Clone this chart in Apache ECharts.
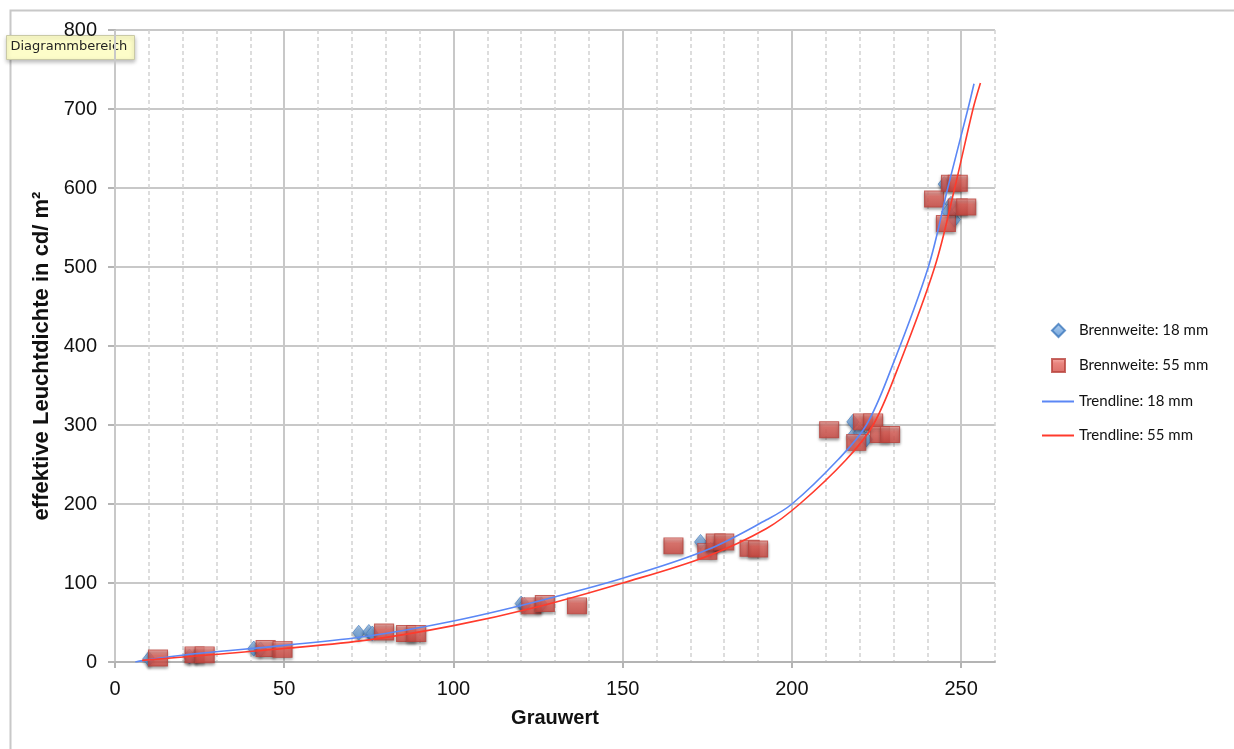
<!DOCTYPE html>
<html>
<head>
<meta charset="utf-8">
<script src="https://cdn.jsdelivr.net/npm/echarts@6/dist/echarts.min.js"></script>
<style>
  html, body { margin: 0; padding: 0; background: #ffffff; }
  #chart { width: 1234px; height: 749px; }
</style>
</head>
<body>
<div id="chart"></div>
<script>
// Measured points: gray value vs. effective luminance (cd/m²)
const points18mm = [[10,4],[22,7],[24,8],[41,17],[43,16],[72,37],[75,38],[76,36],[120,74],[121,72],[126,73],
  [173,152],[176,142],[178,148],[218,304],[218,286],[220,290],[222,282],[245,605],[247,580],[248,560],[246,570]];
const points55mm = [[12.7,5],[23.5,9],[26.5,9],[44.5,17],[49.5,16],[79.5,38],[86,36],[89,36],[123,71],[127,74],[136.5,71],
  [165,147],[175,140],[177.5,152],[180,152],[187.5,144],[190,143],[211,294],[219,278],[221,304],[224,304],[226,288],[229,288],
  [242,586],[247,606],[249,606],[245.5,555],[249,576],[251.5,576]];

// Trend curves for both focal lengths
const trend18mm = [[6,0],[10,3],[25,11],[50,21],[75,33],[100,52],[125,77],[150,106],[175,142],[192.5,180],
  [200,200],[213.6,256],[222,300],[229.4,372],[240.3,500],[246.1,601],[252,700],[253.8,732]];
const trend55mm = [[8,2],[25,8],[50,17],[75,28],[100,46],[125,70],[150,100],[175,134],[192.5,169],
  [202.3,200],[216,256],[224,300],[231.3,372],[242.2,500],[248.1,600],[253.5,700],[255.7,733]];

const seriesNames = ['Brennweite: 18 mm', 'Brennweite: 55 mm', 'Trendline: 18 mm', 'Trendline: 55 mm'];
const xTitle = 'Grauwert';
const yTitle = 'effektive Leuchtdichte in cd/ m²';

const tickFont = { fontFamily: 'Liberation Sans, Arial, sans-serif', fontSize: 20, color: '#111' };
const legendFont = { fontFamily: 'Lato, Open Sans, sans-serif', fontSize: 15, color: '#111' };

const chart = echarts.init(document.getElementById('chart'), null, { renderer: 'canvas' });

const squareFill = new echarts.graphic.LinearGradient(0, 0, 0, 1, [
  { offset: 0, color: '#f4a09a' }, { offset: 0.35, color: '#e4675f' }, { offset: 1, color: '#d24b44' }
]);
const diamondFill = new echarts.graphic.LinearGradient(0, 0, 0, 1, [
  { offset: 0, color: '#9cc4ee' }, { offset: 1, color: '#4f8cd0' }
]);

chart.setOption({
  animation: false,
  grid: { left: 115, top: 30, right: 239, bottom: 87, containLabel: false },
  legend: [
    {
      // marker entries
      orient: 'vertical', left: 1051, top: 323, padding: 0,
      itemWidth: 13, itemHeight: 13, itemGap: 20,
      textStyle: Object.assign({ padding: [0, 0, 0, 9] }, legendFont),
      data: [
        { name: seriesNames[0], icon: 'diamond' },
        { name: seriesNames[1], icon: 'rect' }
      ]
    },
    {
      // trendline entries
      orient: 'vertical', left: 1042, top: 394, padding: 0,
      itemWidth: 32, itemHeight: 2, itemGap: 19,
      textStyle: legendFont,
      data: [
        { name: seriesNames[2], icon: 'rect' },
        { name: seriesNames[3], icon: 'rect' }
      ]
    }
  ],
  xAxis: [
    {
      // fine dashed grid every 10
      type: 'value', min: 0, max: 260, interval: 10, position: 'bottom', z: 0,
      axisLine: { show: false }, axisTick: { show: false }, axisLabel: { show: false },
      splitLine: { show: true, lineStyle: { color: '#d2d2d2', width: 1.5, type: [4, 3] } }
    },
    {
      type: 'value', min: 0, max: 260, interval: 50, position: 'bottom', z: 1,
      name: xTitle, nameLocation: 'middle', nameGap: 46,
      nameTextStyle: { fontFamily: 'Liberation Sans, Arial, sans-serif', fontSize: 20, fontWeight: 'bold', color: '#111' },
      axisLine: { show: true, onZero: false, lineStyle: { color: '#b4b4b4', width: 2 } },
      axisTick: { show: true, length: 6, lineStyle: { color: '#b4b4b4', width: 2 } },
      axisLabel: Object.assign({ margin: 17, showMaxLabel: false }, tickFont),
      splitLine: { show: true, showMaxLine: false, lineStyle: { color: '#c8c8c8', width: 2 } }
    }
  ],
  yAxis: {
    type: 'value', min: 0, max: 800, interval: 100,
    name: yTitle, nameLocation: 'middle', nameGap: 56,
    nameTextStyle: { fontFamily: 'Liberation Sans, Arial, sans-serif', fontSize: 22, fontWeight: 'bold', color: '#111',
      padding: [0, 20, 0, 0] },
    axisLine: { show: true, lineStyle: { color: '#b4b4b4', width: 2 } },
    axisTick: { show: true, length: 7, lineStyle: { color: '#b4b4b4', width: 2 } },
    axisLabel: Object.assign({ margin: 18 }, tickFont),
    splitLine: { show: true, lineStyle: { color: '#c8c8c8', width: 2 } }
  },
  series: [
    {
      name: seriesNames[0], type: 'scatter', xAxisIndex: 1, data: points18mm,
      symbol: 'diamond', symbolSize: [12, 15], z: 3,
      itemStyle: { color: diamondFill, borderColor: '#3f79bd', borderWidth: 0.8,
        shadowColor: 'rgba(0,0,0,0.45)', shadowBlur: 3, shadowOffsetY: 2 }
    },
    {
      name: seriesNames[1], type: 'scatter', xAxisIndex: 1, data: points55mm,
      symbol: 'rect', symbolSize: [19, 16], z: 4,
      itemStyle: { color: squareFill, borderColor: '#b9443d', borderWidth: 1,
        shadowColor: 'rgba(0,0,0,0.5)', shadowBlur: 3, shadowOffsetY: 2 }
    },
    {
      name: seriesNames[2], type: 'line', xAxisIndex: 1, data: trend18mm, smooth: 0.35,
      symbol: 'none', z: 5, itemStyle: { color: '#5b87f5' },
      lineStyle: { color: '#5b87f5', width: 1.6 }
    },
    {
      name: seriesNames[3], type: 'line', xAxisIndex: 1, data: trend55mm, smooth: 0.35,
      symbol: 'none', z: 6, itemStyle: { color: '#ff3a2c' },
      lineStyle: { color: '#ff3a2c', width: 1.6 }
    }
  ],
  graphic: [
    {
      type: 'rect', left: 8, top: 8, z: 0, silent: true,
      shape: { width: 1240, height: 760 },
      style: { fill: 'none', stroke: '#c8c8c8', lineWidth: 2 }
    },
    {
      type: 'group', left: 6, top: 35, z: 100,
      children: [
        { type: 'rect', shape: { width: 128, height: 24 },
          style: { fill: '#fdfdc9', stroke: '#c9c9a6', lineWidth: 1,
            shadowColor: 'rgba(0,0,0,0.25)', shadowBlur: 4, shadowOffsetY: 2 } },
        { type: 'text', left: 4, top: 5,
          style: { text: 'Diagrammbereich', fill: '#222', fontSize: 13,
            fontFamily: 'DejaVu Sans, sans-serif' } }
      ]
    }
  ]
});
</script>
</body>
</html>
